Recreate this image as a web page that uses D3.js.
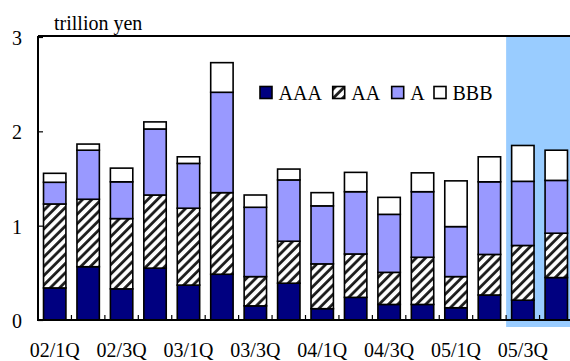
<!DOCTYPE html>
<html>
<head>
<meta charset="utf-8">
<script src="https://cdn.jsdelivr.net/npm/d3@7"></script>
<style>
  html, body { margin: 0; padding: 0; background: #fff; }
  svg { display: block; }
  svg text { font-family: "Liberation Serif", "Times New Roman", Times, "DejaVu Serif", serif !important; fill: #000; }
</style>
</head>
<body>
<svg id="chart" width="570" height="361"></svg>
<script>
const quarters = ["02/1Q","02/2Q","02/3Q","02/4Q","03/1Q","03/2Q","03/3Q","03/4Q",
                  "04/1Q","04/2Q","04/3Q","04/4Q","05/1Q","05/2Q","05/3Q","05/4Q"];
const tickLabels = ["02/1Q","02/3Q","03/1Q","03/3Q","04/1Q","04/3Q","05/1Q","05/3Q"];
const seriesNames = ["AAA","AA","A","BBB"];
const valAAA = [0.34, 0.565, 0.33, 0.55, 0.37, 0.485, 0.15, 0.39, 0.12, 0.24, 0.165, 0.165, 0.13, 0.265, 0.21, 0.45];
const valAA  = [0.89, 0.715, 0.745, 0.775, 0.815, 0.865, 0.31, 0.445, 0.475, 0.46, 0.34, 0.50, 0.33, 0.43, 0.58, 0.47];
const valA   = [0.23, 0.52, 0.39, 0.70, 0.475, 1.064, 0.735, 0.65, 0.615, 0.66, 0.615, 0.695, 0.53, 0.77, 0.68, 0.56];
const valBBB = [0.095, 0.065, 0.145, 0.075, 0.07, 0.314, 0.13, 0.115, 0.14, 0.205, 0.18, 0.20, 0.485, 0.265, 0.38, 0.32];
const yTicks = [0, 1, 2, 3];
const highlighted = ["05/3Q", "05/4Q"];

const FONT = "'Liberation Serif', 'Times New Roman', Times, 'DejaVu Serif', serif";
const FS = 20;
const svg = d3.select("#chart").attr("font-family", FONT);
const plotLeft = 38, plotTop = 36, plotBottom = 320, plotRight = 573;

const x = d3.scaleBand().domain(quarters).range([plotLeft, plotRight]).paddingInner(0.33).paddingOuter(0.165);
const y = d3.scaleLinear().domain([0, 3]).range([plotBottom, 37]);

// patterns
const defs = svg.append("defs");
const pat = defs.append("pattern").attr("id", "hatch").attr("patternUnits", "userSpaceOnUse")
  .attr("width", 6.6).attr("height", 6.6).attr("patternTransform", "rotate(45)");
pat.append("rect").attr("width", 6.6).attr("height", 6.6).attr("fill", "#fff");
pat.append("line").attr("x1", 1.5).attr("y1", 0).attr("x2", 1.5).attr("y2", 6.6)
  .attr("stroke", "#1a1a1a").attr("stroke-width", 2.8);

const colors = { AAA: "#000080", AA: "url(#hatch)", A: "#9999FF", BBB: "#ffffff" };

// highlight region
const hx0 = x(highlighted[0]) - x.step() * x.paddingInner() / 2;
svg.append("rect").attr("x", hx0).attr("y", plotTop + 1).attr("width", 600 - hx0).attr("height", 327 - plotTop - 1)
  .attr("fill", "#99CCFF");

// data stack
const table = quarters.map((q, i) => ({ q, AAA: valAAA[i], AA: valAA[i], A: valA[i], BBB: valBBB[i] }));
const stacked = d3.stack().keys(seriesNames)(table);

const g = svg.append("g");
stacked.forEach(layer => {
  g.selectAll(null).data(layer).enter().append("rect")
    .attr("x", d => x(d.data.q))
    .attr("y", d => y(d[1]))
    .attr("width", x.bandwidth())
    .attr("height", d => y(d[0]) - y(d[1]))
    .attr("fill", colors[layer.key])
    .attr("stroke", "#000")
    .attr("stroke-width", 1.6);
});

// axes lines
svg.append("line").attr("x1", plotLeft).attr("x2", 570).attr("y1", plotTop).attr("y2", plotTop).attr("stroke", "#000").attr("stroke-width", 2);
svg.append("line").attr("x1", plotLeft).attr("x2", plotLeft).attr("y1", plotTop).attr("y2", plotBottom + 1).attr("stroke", "#000").attr("stroke-width", 2);
svg.append("line").attr("x1", plotLeft).attr("x2", 570).attr("y1", plotBottom).attr("y2", plotBottom).attr("stroke", "#000").attr("stroke-width", 2);

// y axis ticks + labels
const yAxis = d3.axisLeft(y).tickValues(yTicks).tickSize(-5).tickPadding(16).tickFormat(d3.format("d"));
const ya = svg.append("g").attr("transform", `translate(${plotLeft},0)`).call(yAxis);
ya.attr("font-family", FONT).attr("font-size", FS);
ya.select(".domain").remove();
ya.selectAll(".tick line").attr("stroke", "#000").attr("stroke-width", 1.2);
ya.selectAll(".tick text").attr("fill", "#000").attr("dy", "0.38em");

// x ticks at band boundaries
const bounds = quarters.slice(1).map(q => x(q) - x.step() * x.paddingInner() / 2);
svg.selectAll(null).data(bounds).enter().append("line")
  .attr("x1", d => d).attr("x2", d => d).attr("y1", plotBottom).attr("y2", plotBottom - 5)
  .attr("stroke", "#000").attr("stroke-width", 1.2);

// x labels
svg.selectAll(null).data(tickLabels).enter().append("text")
  .attr("x", d => x(d) + x.bandwidth() / 2)
  .attr("y", 356.5)
  .attr("text-anchor", "middle")
  .attr("font-size", FS)
  .text(d => d);

// unit label
svg.append("text").attr("x", 54).attr("y", 30).attr("font-size", FS).text("trillion yen");

// legend
const legendX = [260, 332.7, 391.7, 434];
const lg = svg.append("g");
seriesNames.forEach((s, i) => {
  lg.append("rect").attr("x", legendX[i]).attr("y", 86.5).attr("width", 12).attr("height", 12)
    .attr("fill", colors[s]).attr("stroke", "#000").attr("stroke-width", 1.6);
  lg.append("text").attr("x", legendX[i] + 18.5).attr("y", 99.5).attr("font-size", FS).text(s);
});
</script>
</body>
</html>
